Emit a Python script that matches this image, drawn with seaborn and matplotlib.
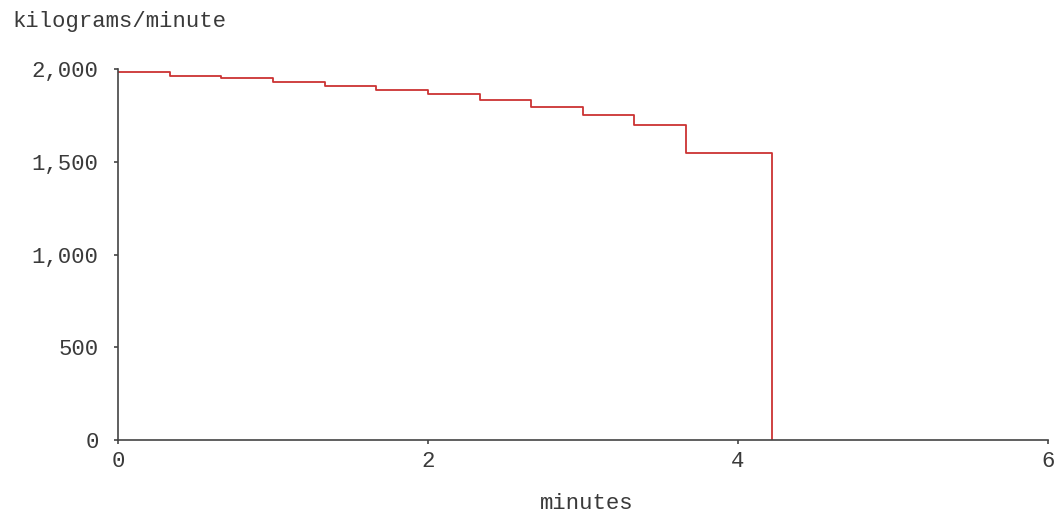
import matplotlib
matplotlib.use("Agg")
import matplotlib.pyplot as plt
import seaborn as sns
import pandas as pd
from matplotlib.ticker import FuncFormatter

# Data (step function, steps-post)
minutes = [0.0, 0.333, 0.667, 1.0, 1.333, 1.667, 2.0, 2.333, 2.667, 3.0, 3.333, 3.667, 4.22, 4.22]
kg_per_minute = [1985, 1966, 1952, 1931, 1909, 1891, 1868, 1835, 1799, 1756, 1699, 1548, 1548, 0]

x_ticks = [0, 2, 4, 6]
y_ticks = [0, 500, 1000, 1500, 2000]

sns.set_style("white")
plt.rcParams['font.family'] = ['Liberation Mono', 'DejaVu Sans Mono']

df = pd.DataFrame({"minutes": minutes, "rate": kg_per_minute})

fig = plt.figure(figsize=(10.54, 5.12), dpi=100)
ax = fig.add_axes([0.112, 0.1406, 0.882, 0.7237])

sns.lineplot(data=df, x="minutes", y="rate", ax=ax, estimator=None, sort=False,
             drawstyle="steps-post", color="#cc3333", linewidth=1.3)

ax.set_xlim(0, 6)
ax.set_ylim(0, 2000)
ax.set_xticks(x_ticks)
ax.set_yticks(y_ticks)
ax.yaxis.set_major_formatter(FuncFormatter(lambda v, p: f"{int(v):,}"))

for s in ["top", "right"]:
    ax.spines[s].set_visible(False)
for s in ["left", "bottom"]:
    ax.spines[s].set_color("#444444")
    ax.spines[s].set_linewidth(1.2)

ax.tick_params(axis="both", direction="out", length=3, width=1.2, color="#444444",
               labelsize=16, labelcolor="#3a3a3a", bottom=True, left=True)
ax.tick_params(axis="x", pad=5)
ax.tick_params(axis="y", pad=11)

ax.set_xlabel("")
ax.set_ylabel("")
fig.text(0.5565, 1 - 509 / 512, "minutes", fontsize=16, color="#3a3a3a",
         ha="center", va="baseline")
fig.text(0.0114, 1 - 27 / 512, "kilograms/minute", fontsize=16, color="#3a3a3a",
         ha="left", va="baseline")

fig.savefig("out.png", dpi=100)
